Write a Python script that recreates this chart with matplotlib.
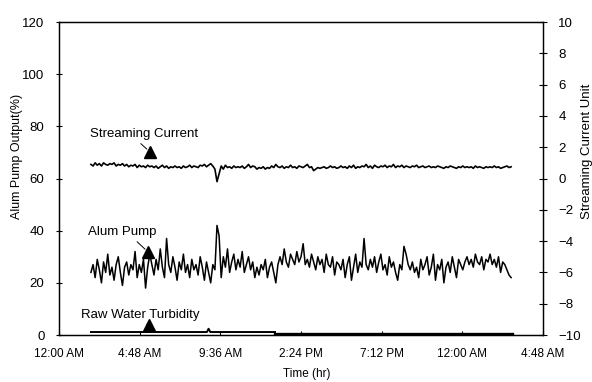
import numpy as np
import matplotlib
matplotlib.use("Agg")
import matplotlib.pyplot as plt

plt.rcParams['font.family'] = ['Liberation Sans', 'DejaVu Sans']

# time axis: hours since 12:00 AM, one sample every 7.5 min
t_start = 1.9
t_step = 0.125

# Alum pump output (%), left axis
alum_pump = [
    24, 27, 22, 29, 25, 20, 28, 24, 31, 23,
    26, 21, 27, 30, 24, 19, 26, 28, 23, 27,
    25, 32, 22, 27, 24, 29, 18, 26, 31, 27,
    23, 29, 25, 33, 26, 22, 37, 27, 24, 30,
    26, 21, 28, 25, 31, 24, 27, 22, 29, 25,
    27, 23, 30, 26, 21, 28, 24, 20, 27, 25,
    42, 38, 22, 30, 26, 33, 24, 28, 31, 25,
    29, 26, 32, 24, 27, 30, 25, 28, 22, 26,
    23, 27, 25, 29, 22, 26, 28, 24, 20, 27,
    30, 27, 33, 28, 26, 31, 29, 27, 32, 28,
    30, 35, 27, 29, 26, 31, 28, 25, 30, 27,
    29, 24, 31, 27, 26, 30, 23, 28, 27, 25,
    29, 22, 27, 30, 21, 26, 31, 24, 28, 26,
    37, 27, 25, 29, 26, 30, 24, 28, 31, 25,
    27, 23, 30, 26, 28, 24, 21, 27, 25, 34,
    31, 27, 25, 28, 24, 26, 22, 29, 25, 27,
    30, 23, 26, 31, 21, 27, 25, 29, 20, 26,
    28, 24, 30, 26, 22, 29, 27, 25, 28, 30,
    27, 29, 26, 31, 28, 27, 30, 25, 29, 28,
    31, 27, 29, 26, 30, 24, 28, 27, 25, 23,
    22,
]

# streaming current, right axis
streaming = [
    0.9, 0.8, 1.0, 0.85, 0.95, 0.8, 1.0, 0.9, 0.85, 0.95,
    0.9, 1.0, 0.8, 0.9, 0.85, 0.95, 0.8, 0.9, 0.75, 0.85,
    0.8, 0.9, 0.7, 0.85, 0.75, 0.8, 0.7, 0.85, 0.75, 0.8,
    0.7, 0.8, 0.65, 0.75, 0.85, 0.7, 0.8, 0.65, 0.75, 0.7,
    0.8, 0.7, 0.75, 0.65, 0.8, 0.7, 0.75, 0.85, 0.7, 0.8,
    0.75, 0.7, 0.85, 0.8, 0.9, 0.75, 0.85, 0.95, 0.8, 0.6,
    -0.2, 0.3, 0.8, 0.6, 0.85, 0.7, 0.75, 0.65, 0.8, 0.7,
    0.75, 0.7, 0.8, 0.65, 0.75, 0.9, 0.7, 0.8, 0.75, 0.6,
    0.7, 0.65, 0.75, 0.6, 0.7, 0.65, 0.8, 0.7, 0.9, 0.75,
    0.7, 0.8, 0.65, 0.75, 0.7, 0.85, 0.7, 0.75, 0.65, 0.8,
    0.75, 0.7, 0.8, 0.9, 0.7, 0.75, 0.5, 0.6, 0.7, 0.65,
    0.7, 0.75, 0.65, 0.7, 0.8, 0.7, 0.75, 0.65, 0.7, 0.8,
    0.7, 0.75, 0.65, 0.8, 0.7, 0.85, 0.65, 0.75, 0.7, 0.8,
    0.75, 0.9, 0.7, 0.8, 0.65, 0.85, 0.75, 0.7, 0.8, 0.75,
    0.85, 0.7, 0.8, 0.75, 0.9, 0.7, 0.8, 0.75, 0.85, 0.7,
    0.8, 0.75, 0.7, 0.8, 0.75, 0.85, 0.7, 0.75, 0.8, 0.7,
    0.75, 0.8, 0.7, 0.75, 0.7, 0.8, 0.75, 0.7, 0.65, 0.75,
    0.7, 0.8, 0.75, 0.7, 0.65, 0.75, 0.7, 0.8, 0.7, 0.75,
    0.7, 0.75, 0.65, 0.8, 0.7, 0.75, 0.7, 0.65, 0.75, 0.7,
    0.75, 0.7, 0.8, 0.7, 0.75, 0.65, 0.7, 0.75, 0.8, 0.7,
    0.75,
]

# raw water turbidity, two logging periods
turb1_t = [1.9, 8.8, 8.9, 9.0, 12.85]
turb1_v = [1.15, 1.15, 2.4, 1.15, 1.15]
turb2_t = [12.85, 26.95]
turb2_v = [0.55, 0.55]

xticks = [0, 4.8, 9.6, 14.4, 19.2, 24.0, 28.8]
xticklabels = ['12:00 AM', '4:48 AM', '9:36 AM', '2:24 PM', '7:12 PM', '12:00 AM', '4:48 AM']

t = t_start + t_step * np.arange(len(alum_pump))

fig = plt.figure(figsize=(5.92, 3.82), dpi=100)
ax = fig.add_axes([0.0997, 0.123, 0.8176, 0.8194])
ax2 = ax.twinx()

ax.plot(t, alum_pump, color='black', lw=1.1)
ax.plot(turb1_t, turb1_v, color='black', lw=1.4)
ax.plot(turb2_t, turb2_v, color='black', lw=2.4)
ax2.plot(t, streaming, color='black', lw=1.2)

ax.set_xlim(0, 28.8)
ax.set_ylim(0, 120)
ax2.set_ylim(-10, 10)
ax.set_yticks(range(0, 121, 20))
ax2.set_yticks(range(-10, 11, 2))
ax.set_xticks(xticks)
ax.set_xticklabels(xticklabels)

ax.tick_params(axis='x', direction='in', length=3, labelsize=8.5, pad=9)
ax.tick_params(axis='y', direction='inout', length=5, labelsize=9.5, pad=8)
ax2.tick_params(axis='y', direction='inout', length=6, labelsize=9.5, pad=8)

ax.set_ylabel('Alum Pump Output(%)', fontsize=9)
ax.yaxis.set_label_coords(-0.074, 0.569)
ax2.set_ylabel('Streaming Current Unit', fontsize=9.5)
ax2.yaxis.set_label_coords(1.078, 0.588)
ax.set_xlabel('Time (hr)', fontsize=8.5)
ax.xaxis.set_label_coords(0.512, -0.125)
ax.xaxis.label.set_va('center')

# labels with pointer triangles: text, triangle, text position, where the leader leaves the text
notes = [('Streaming Current', (5.41, 70.2), (1.84, 77.1), 0.42),
         ('Alum Pump', (5.30, 31.8), (1.73, 39.5), 0.64),
         ('Raw Water Turbidity', (5.35, 3.8), (1.31, 7.7), 0.46)]
for txt, xy, xyt, rx in notes:
    ax.annotate(txt, xy=xy, xytext=xyt, fontsize=9.5, va='center', ha='left',
                arrowprops=dict(arrowstyle='-', color='black', lw=0.7,
                                shrinkA=1, shrinkB=3, relpos=(rx, 0.1)))
    ax.plot(xy[0], xy[1], marker='^', color='black', ms=8, clip_on=False)

for a in (ax, ax2):
    for s in a.spines.values():
        s.set_linewidth(0.9)

fig.savefig('out.png', dpi=100)
